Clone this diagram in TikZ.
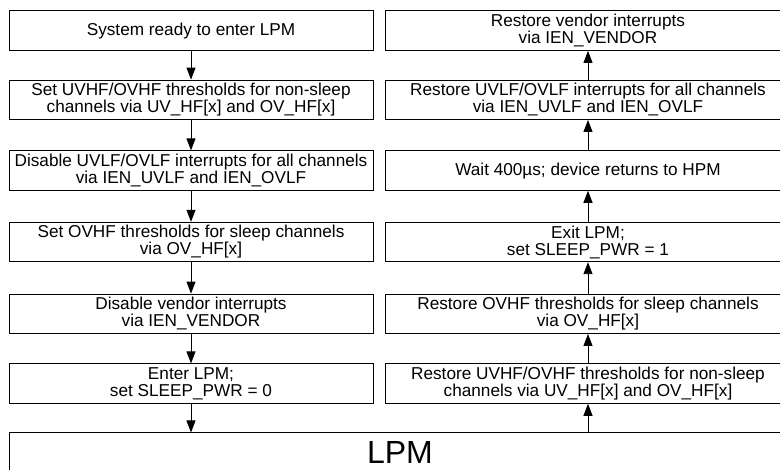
\documentclass[tikz,border=0pt]{standalone}
\usepackage{fontspec}
\setmainfont{Liberation Sans}
\usetikzlibrary{arrows.meta}
\tikzset{
  stepbox/.style={draw=black, line width=0.9pt, rectangle, inner sep=0pt, align=center,
    minimum height=39.5pt, font=\fontsize{17.2}{17}\selectfont},
  leftbox/.style={stepbox, minimum width=364pt},
  rightbox/.style={stepbox, minimum width=406pt},
  flow/.style={draw=black, line width=0.9pt, -{Triangle[length=12pt,width=9pt]}}
}
\begin{document}
\begin{tikzpicture}[x=1pt,y=-1pt]
\useasboundingbox (0,0) rectangle (780,470);
% left column
\node[leftbox] (l1) at (191,30.7) {System ready to enter LPM};
\node[leftbox] (l2) at (191,99.8) {Set UVHF/OVHF thresholds for non-sleep\\channels via UV\_HF[x] and OV\_HF[x]};
\node[leftbox] (l3) at (191,170.6) {Disable UVLF/OVLF interrupts for all channels\\via IEN\_UVLF and IEN\_OVLF};
\node[leftbox] (l4) at (191,242) {Set OVHF thresholds for sleep channels\\via OV\_HF[x]};
\node[leftbox] (l5) at (191,313.8) {Disable vendor interrupts\\via IEN\_VENDOR};
\node[leftbox] (l6) at (191,383.6) {Enter LPM;\\set SLEEP\_PWR = 0};
% right column
\node[rightbox] (r1) at (588,30.7) {Restore vendor interrupts\\via IEN\_VENDOR};
\node[rightbox] (r2) at (588,99.8) {Restore UVLF/OVLF interrupts for all channels\\via IEN\_UVLF and IEN\_OVLF};
\node[rightbox] (r3) at (588,170.6) {Wait 400µs; device returns to HPM};
\node[rightbox] (r4) at (588,242) {Exit LPM;\\set SLEEP\_PWR = 1};
\node[rightbox] (r5) at (588,313.8) {Restore OVHF thresholds for sleep channels\\via OV\_HF[x]};
\node[rightbox] (r6) at (588,383.6) {Restore UVHF/OVHF thresholds for non-sleep\\channels via UV\_HF[x] and OV\_HF[x]};
% LPM
\node[stepbox, minimum width=782pt, font=\fontsize{32}{34}\selectfont] (lpm) at (400,452.7) {LPM};
% arrows left (down)
\draw[flow] (l1.south) -- (l2.north);
\draw[flow] (l2.south) -- (l3.north);
\draw[flow] (l3.south) -- (l4.north);
\draw[flow] (l4.south) -- (l5.north);
\draw[flow] (l5.south) -- (l6.north);
\draw[flow] (l6.south) -- (l6.south |- lpm.north);
% arrows right (up)
\draw[flow] (r6.south |- lpm.north) -- (r6.south);
\draw[flow] (r6.north) -- (r5.south);
\draw[flow] (r5.north) -- (r4.south);
\draw[flow] (r4.north) -- (r3.south);
\draw[flow] (r3.north) -- (r2.south);
\draw[flow] (r2.north) -- (r1.south);
\end{tikzpicture}
\end{document}
